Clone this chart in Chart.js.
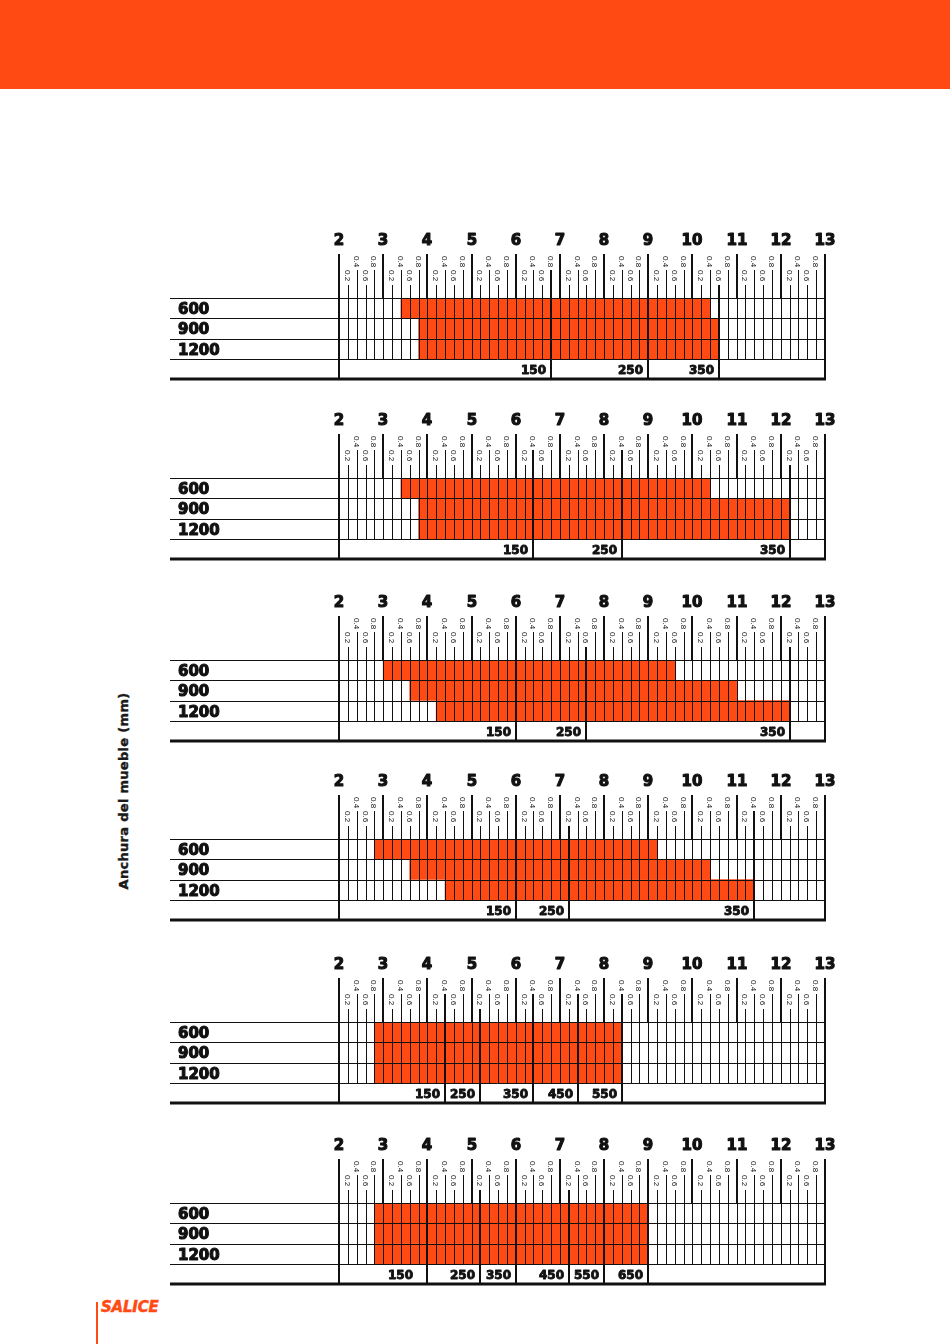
<!DOCTYPE html>
<html><head><meta charset="utf-8">
<script src="https://cdn.jsdelivr.net/npm/chart.js@4.4.1/dist/chart.umd.min.js"></script>
<style>
body{margin:0;background:#fff;}
#page{position:relative;width:950px;height:1344px;overflow:hidden;background:#fff;}
#header{position:absolute;left:0;top:0;width:950px;height:89px;background:#FF4A14;}
canvas{position:absolute;left:0;}
#ytitle{position:absolute;left:123px;top:791px;transform:translate(-50%,-50%) rotate(-90deg);font:bold 13px "DejaVu Sans";white-space:nowrap;color:#1a1a1a;letter-spacing:0.3px;-webkit-text-stroke:0.4px #1a1a1a;}
#logo{position:absolute;left:101px;top:1298px;font:italic bold 15px "DejaVu Sans";color:#FF4A14;letter-spacing:-0.2px;-webkit-text-stroke:0.5px #FF4A14;}
#logoLine{position:absolute;left:96px;top:1302px;width:2px;height:42px;background:#FF4A14;}
</style></head>
<body><div id="page">
<div id="header"></div>
<div id="ytitle">Anchura del mueble (mm)</div>
<div id="logoLine"></div>
<div id="logo">SALICE</div>
</div>
<script>
// ---- data ----
const majorTicks = [2,3,4,5,6,7,8,9,10,11,12,13];
const minorTickLabels = ['0.2','0.4','0.6','0.8'];
const rowCategories = ['600','900','1200'];

const p1Start = [3.4, 3.8, 3.8];
const p1End   = [10.4, 10.6, 10.6];
const p1Dividers = [6.8, 9.0, 10.6];
const p1Labels = ['150','250','350'];

const p2Start = [3.4, 3.8, 3.8];
const p2End   = [10.4, 12.2, 12.2];
const p2Dividers = [6.4, 8.4, 12.2];
const p2Labels = ['150','250','350'];

const p3Start = [3.0, 3.6, 4.2];
const p3End   = [9.6, 11.0, 12.2];
const p3Dividers = [6.0, 7.6, 12.2];
const p3Labels = ['150','250','350'];

const p4Start = [2.8, 3.6, 4.4];
const p4End   = [9.2, 10.4, 11.4];
const p4Dividers = [6.0, 7.2, 11.4];
const p4Labels = ['150','250','350'];

const p5Start = [2.8, 2.8, 2.8];
const p5End   = [8.4, 8.4, 8.4];
const p5Dividers = [4.4, 5.2, 6.4, 7.4, 8.4];
const p5Labels = ['150','250','350','450','550'];

const p6Start = [2.8, 2.8, 2.8];
const p6End   = [9.0, 9.0, 9.0];
const p6Dividers = [4.0, 5.2, 6.0, 7.2, 8.0, 9.0];
const p6Labels = ['150','250','350','450','550','650'];

// ---- layout ----
const panels = [
  {start:p1Start,end:p1End,dividers:p1Dividers,labels:p1Labels,rowTop:298},
  {start:p2Start,end:p2End,dividers:p2Dividers,labels:p2Labels,rowTop:478},
  {start:p3Start,end:p3End,dividers:p3Dividers,labels:p3Labels,rowTop:660},
  {start:p4Start,end:p4End,dividers:p4Dividers,labels:p4Labels,rowTop:839},
  {start:p5Start,end:p5End,dividers:p5Dividers,labels:p5Labels,rowTop:1022},
  {start:p6Start,end:p6End,dividers:p6Dividers,labels:p6Labels,rowTop:1203,align:['center']}
];
const PAD_TOP = 70, AREA_H = 81, PAD_BOTTOM = 6, LEFT_LINE = 170;
const ORANGE = '#FF4A14', INK = '#111';

const decor = {
  id: 'panelDecor',
  afterDatasetsDraw(chart, args, opt) {
    const ctx = chart.ctx, xs = chart.scales.x, ys = chart.scales.y, a = chart.chartArea;
    const top = Math.round(a.top), bottom = Math.round(a.bottom);
    const rowH = (a.bottom - a.top) / 4;
    const rowY = i => Math.round(a.top + i * rowH);
    const rb = rowY(3);
    const X = v => Math.round(xs.getPixelForValue(v));
    const tickTop = v => { const m = Math.round(v * 5) % 5; return m === 0 ? top - 44 : (m % 2 === 0 ? top - 28 : top - 13); };
    const line = (x0, y0, x1, y1) => { ctx.beginPath(); ctx.moveTo(x0, y0); ctx.lineTo(x1, y1); ctx.stroke(); };
    const heavy = (t, x, y, w) => { ctx.lineWidth = w; ctx.strokeText(t, x, y); ctx.fillText(t, x, y); };
    ctx.save();
    ctx.strokeStyle = INK; ctx.fillStyle = INK; ctx.lineJoin = 'round';
    // thin vertical grid / minor ticks
    ctx.lineWidth = 1;
    const kMin = Math.round(xs.min * 5), kMax = Math.round(xs.max * 5);
    for (let k = kMin + 1; k < kMax; k++) {
      const v = k / 5, m = k % 5, x = X(v) + 0.5;
      line(x, m === 0 ? top : tickTop(v), x, rb);
    }
    // horizontal row lines
    for (let i = 0; i <= 3; i++) { const y = rowY(i) + 0.5; line(LEFT_LINE, y, Math.round(a.right), y); }
    // major ticks (thick)
    ctx.lineWidth = 2;
    majorTicks.forEach(t => {
      const x = X(t);
      line(x, top - 44, x, (t === xs.min || t === xs.max) ? bottom + 1 : top);
    });
    // dividers
    opt.dividers.forEach(d => { const x = X(d); line(x, tickTop(d), x, bottom + 1); });
    // bottom thick line
    ctx.lineWidth = 3;
    line(LEFT_LINE, bottom, Math.round(a.right) + 1, bottom);
    // major labels
    ctx.font = 'bold 15px "DejaVu Sans"';
    ctx.textAlign = 'center'; ctx.textBaseline = 'middle';
    majorTicks.forEach(t => heavy(String(t), X(t), top - 57, 1.1));
    // minor labels (rotated)
    ctx.font = '8px "Liberation Sans"';
    for (let k = kMin + 1; k < kMax; k++) {
      const m = k % 5; if (m === 0) continue;
      const x = X(k / 5) - 0.5;
      ctx.save();
      ctx.translate(x, m % 2 === 0 ? top - 42 : top - 28);
      ctx.rotate(Math.PI / 2);
      ctx.textAlign = 'left'; ctx.textBaseline = 'middle';
      ctx.fillText(minorTickLabels[m - 1], 0, 0);
      ctx.restore();
    }
    // row labels
    ctx.font = 'bold 15px "DejaVu Sans"';
    ctx.textAlign = 'left'; ctx.textBaseline = 'middle';
    rowCategories.forEach((c, i) => heavy(c, 178, ys.getPixelForValue(i) + 2, 1.1));
    // bottom row labels
    ctx.font = 'bold 12px "DejaVu Sans"';
    const yb = ys.getPixelForValue(3) + 1.5;
    opt.labels.forEach((lab, j) => {
      const al = (opt.align && opt.align[j]) || 'right';
      ctx.textAlign = al;
      if (al === 'center') {
        const prev = j > 0 ? opt.dividers[j - 1] : Math.min(...opt.start);
        heavy(lab, (X(prev) + X(opt.dividers[j])) / 2, yb, 0.9);
      } else {
        heavy(lab, X(opt.dividers[j]) - 5, yb, 0.9);
      }
    });
    ctx.restore();
  }
};

const page = document.getElementById('page');
panels.forEach(p => {
  const cv = document.createElement('canvas');
  cv.width = 950; cv.height = PAD_TOP + AREA_H + PAD_BOTTOM;
  cv.style.width = '950px'; cv.style.height = cv.height + 'px';
  cv.style.top = (p.rowTop - PAD_TOP) + 'px';
  page.appendChild(cv);
  new Chart(cv, {
    type: 'bar',
    data: {
      labels: [...rowCategories, ''],
      datasets: [{
        data: [...rowCategories.map((c, i) => [p.start[i], p.end[i]]), null],
        backgroundColor: ORANGE, borderWidth: 0,
        barPercentage: 1, categoryPercentage: 1
      }]
    },
    options: {
      indexAxis: 'y',
      responsive: false, animation: false, devicePixelRatio: 1,
      layout: { padding: { left: 339, right: 125, top: PAD_TOP, bottom: PAD_BOTTOM } },
      scales: {
        x: { type: 'linear', min: 2, max: 13, display: false },
        y: { type: 'category', display: false, offset: true }
      },
      plugins: {
        legend: { display: false }, tooltip: { enabled: false },
        panelDecor: { dividers: p.dividers, labels: p.labels, start: p.start, align: p.align || [] }
      }
    },
    plugins: [decor]
  });
});
</script>
</body></html>
